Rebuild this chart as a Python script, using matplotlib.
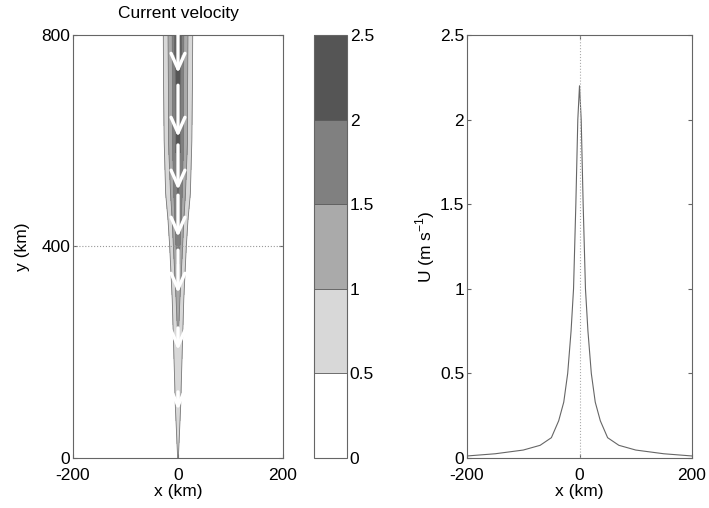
import numpy as np
import matplotlib
matplotlib.use('Agg')
import matplotlib.pyplot as plt
from matplotlib.colors import ListedColormap, BoundaryNorm

plt.rcParams['font.family'] = ['Liberation Sans', 'DejaVu Sans']
plt.rcParams['font.size'] = 12.5
plt.rcParams['axes.unicode_minus'] = False

# --- current velocity field ---
grid_x = [-200, -40, -28, -19, -11, -6, 0, 6, 11, 19, 28, 40, 200]   # km
grid_y = [0, 100, 200, 300, 400, 500, 600, 700, 800]                   # km
half_u = [  # values at x = -200 .. 0 (mirrored for x > 0), one row per grid_y
    [0.0, 0.0, 0.0, 0.0, 0.0, 0.1, 0.55],
    [0.0, 0.02, 0.04, 0.08, 0.2, 0.45, 0.8],
    [0.0, 0.03, 0.06, 0.15, 0.35, 0.6, 0.95],
    [0.0, 0.05, 0.1, 0.25, 0.5, 0.8, 1.3],
    [0.0, 0.08, 0.2, 0.3, 0.8, 1.25, 1.9],
    [0.0, 0.12, 0.3, 0.7, 1.2, 1.7, 2.1],
    [0.0, 0.15, 0.4, 0.95, 1.45, 1.9, 2.3],
    [0.0, 0.18, 0.47, 0.95, 1.45, 1.95, 2.35],
    [0.0, 0.2, 0.5, 1.0, 1.5, 2.0, 2.4],
]
levels = [0, 0.5, 1.0, 1.5, 2.0, 2.5]
greys = ['#ffffff', '#d8d8d8', '#aaaaaa', '#808080', '#555555']

# arrows along the jet axis: tail y and tip y (km)
arrow_tail = [800, 705, 592, 497, 393, 246, 125]
arrow_tip = [728, 607, 507, 418, 312, 204, 91]

# --- cross-jet profile (right panel) ---
prof_x = [-200, -150, -100, -70, -50, -37, -28, -21, -15, -10.6, -6.5, -3, 0,
          3, 6.5, 10.6, 15, 21, 28, 37, 50, 70, 100, 150, 200]
prof_u = [0.012, 0.025, 0.047, 0.075, 0.12, 0.22, 0.33, 0.5, 0.75, 1.0, 1.5, 2.0, 2.2,
          2.0, 1.5, 1.0, 0.75, 0.5, 0.33, 0.22, 0.12, 0.075, 0.047, 0.025, 0.012]

U = np.array([row + row[-2::-1] for row in half_u])
X, Y = np.meshgrid(grid_x, grid_y)

fig = plt.figure(figsize=(7.09, 5.08), dpi=100)
ax1 = fig.add_axes([73/709, 50/508, 210/709, 423/508])
cax = fig.add_axes([314/709, 50/508, 33/709, 423/508])
ax2 = fig.add_axes([467/709, 50/508, 225/709, 423/508])

cmap = ListedColormap(greys)
norm = BoundaryNorm(levels, cmap.N)
cf = ax1.contourf(X, Y, U, levels=levels, cmap=cmap, norm=norm)
ax1.contour(X, Y, U, levels=levels[1:-1], colors='#7a7a7a', linewidths=0.6)
for t, h in zip(arrow_tail, arrow_tip):
    ax1.annotate('', xy=(0, h), xytext=(0, t),
                 arrowprops=dict(arrowstyle='->,head_length=0.9,head_width=0.4',
                                 color='white', lw=2.4, shrinkA=0, shrinkB=0))
ax1.axhline(400, color='#999999', lw=0.8, ls=':')
ax1.set_xlim(-200, 200)
ax1.set_ylim(0, 800)
ax1.set_xticks([-200, 0, 200])
ax1.set_yticks([0, 400, 800])
ax1.set_xlabel('x (km)', labelpad=1)
ax1.set_ylabel('y (km)', labelpad=8)
ax1.set_title('Current velocity', fontsize=12.5, pad=12)

cb = fig.colorbar(cf, cax=cax, ticks=levels)
cb.ax.set_yticklabels(['0', '0.5', '1', '1.5', '2', '2.5'])
cb.outline.set_edgecolor('#666666')
cb.outline.set_linewidth(0.8)
cb.ax.tick_params(length=0, pad=2)
for lv in levels[1:-1]:
    cb.ax.axhline(lv, color='#555555', lw=0.6)

ax2.plot(prof_x, prof_u, color='#666666', lw=0.8)
ax2.axvline(0, color='#aaaaaa', lw=0.8, ls=':')
ax2.set_xlim(-200, 200)
ax2.set_ylim(0, 2.5)
ax2.set_xticks([-200, 0, 200])
ax2.set_yticks([0, 0.5, 1, 1.5, 2, 2.5])
ax2.set_yticklabels(['0', '0.5', '1', '1.5', '2', '2.5'])
ax2.set_xlabel('x (km)', labelpad=1)
ax2.set_ylabel('U (m s$^{\\mathregular{-1}}$)', labelpad=2)

for ax in (ax1, ax2):
    for s in ax.spines.values():
        s.set_color('#666666')
        s.set_linewidth(0.8)
    ax.tick_params(direction='in', length=3, color='#666666', top=True, right=True, pad=2)
    ax.tick_params(axis='x', pad=7)

fig.savefig('out.png', dpi=100)
